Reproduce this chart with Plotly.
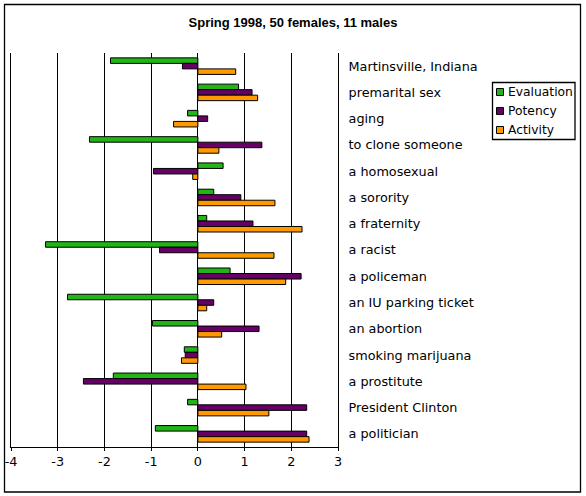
import plotly.graph_objects as go

categories = ["Martinsville, Indiana", "premarital sex", "aging", "to clone someone",
              "a homosexual", "a sorority", "a fraternity", "a racist", "a policeman",
              "an IU parking ticket", "an abortion", "smoking marijuana", "a prostitute",
              "President Clinton", "a politician"]
evaluation = [-1.87, 0.87, -0.22, -2.32, 0.54, 0.34, 0.19, -3.26, 0.69, -2.79, -0.97, -0.29, -1.81, -0.22, -0.91]
potency = [-0.33, 1.16, 0.21, 1.37, -0.95, 0.92, 1.18, -0.82, 2.21, 0.34, 1.31, -0.27, -2.45, 2.33, 2.33]
activity = [0.81, 1.28, -0.52, 0.45, -0.11, 1.65, 2.23, 1.63, 1.88, 0.19, 0.51, -0.35, 1.03, 1.52, 2.38]
series_names = ["Evaluation", "Potency", "Activity"]
series_colors = ["#21B516", "#660066", "#FF9900"]
x_ticks = [-4, -3, -2, -1, 0, 1, 2, 3]
x_tick_labels = ["-4", "-3", "-2", "-1", "0", "1", "2", "3"]

FONT = "DejaVu Sans"
W, H = 586, 496
L, R, T, B = 11, 248, 53, 49
PW, PH = W - L - R, H - T - B

def px(x):
    return (x - L) / PW

def py(y):
    return (H - B - y) / PH

fig = go.Figure()
for name, vals, col in zip(series_names, [evaluation, potency, activity], series_colors):
    fig.add_trace(go.Bar(y=categories, x=vals, name=name, orientation="h",
                         marker=dict(color=col, line=dict(color="black", width=1)),
                         showlegend=False))

shapes = []
annotations = []
# outer frame
shapes.append(dict(type="rect", xref="paper", yref="paper", x0=px(4.5), x1=px(580.5),
                   y0=py(492), y1=py(4.5), line=dict(color="black", width=1.3)))
# legend box
shapes.append(dict(type="rect", xref="paper", yref="paper", x0=px(492.5), x1=px(575),
                   y0=py(139.5), y1=py(82.5), line=dict(color="black", width=1.3),
                   fillcolor="white"))
for i, (name, col) in enumerate(zip(series_names, series_colors)):
    cy = 92 + i * 19
    shapes.append(dict(type="rect", xref="paper", yref="paper", x0=px(496.5), x1=px(503.5),
                       y0=py(cy + 3.5), y1=py(cy - 3.5), line=dict(color="black", width=1),
                       fillcolor=col))
    annotations.append(dict(text=name, xref="paper", yref="paper", x=px(506), y=py(cy),
                            xanchor="left", yanchor="middle", showarrow=False,
                            font=dict(family=FONT, size=12.3, color="black")))

fig.update_layout(
    width=W, height=H,
    margin=dict(l=L, r=R, t=T, b=B, pad=0, autoexpand=False),
    paper_bgcolor="white", plot_bgcolor="white",
    barmode="group", bargap=0.37, bargroupgap=0,
    title=dict(text="<b>Spring 1998, 50 females, 11 males</b>", x=0.5, xanchor="center",
               y=1 - 22 / H, yanchor="middle", yref="container",
               font=dict(family="Liberation Sans", size=13, color="black")),
    xaxis=dict(range=[-4, 3], tickvals=x_ticks, ticktext=x_tick_labels, automargin=False,
               showgrid=True, gridcolor="black", gridwidth=1,
               zeroline=True, zerolinecolor="black", zerolinewidth=1,
               showline=True, linecolor="black", linewidth=1,
               ticks="outside", ticklen=3, tickcolor="black", tickwidth=1,
               tickfont=dict(family=FONT, size=12.8, color="black")),
    yaxis=dict(type="category", range=[14.5, -0.5], side="right", showgrid=False,
               automargin=False, showline=True, mirror=True, linecolor="black", linewidth=1,
               zeroline=False, ticks="", ticklabelstandoff=7,
               tickfont=dict(family=FONT, size=12.8, color="black")),
    shapes=shapes, annotations=annotations,
    showlegend=False,
)

fig.write_html("out.html", config={"displayModeBar": False},
               post_script="document.body.style.margin='0';document.body.style.overflow='hidden';")
